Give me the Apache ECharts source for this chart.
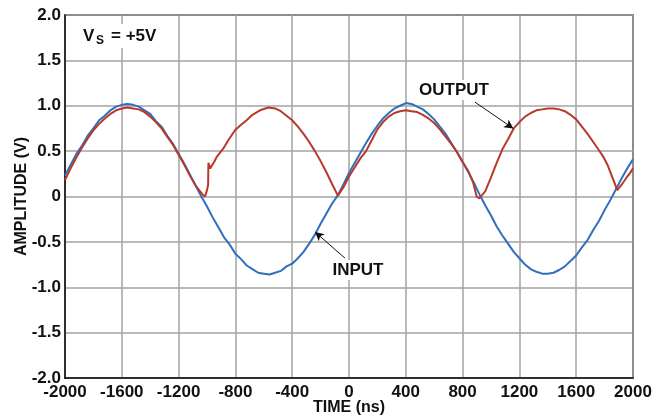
<!DOCTYPE html>
<html>
<head>
<meta charset="utf-8">
<script src="https://cdn.jsdelivr.net/npm/echarts@6/dist/echarts.min.js"></script>
<style>
html,body{margin:0;padding:0;background:#fff;}
#chart{width:659px;height:417px;}
</style>
</head>
<body>
<div id="chart"></div>
<script>
// Input trace (blue): time in ns, amplitude in V
var inputTime = [-2000,-1960,-1920,-1880,-1840,-1800,-1760,-1720,-1680,-1640,-1600,-1560,-1520,-1480,-1440,-1400,-1360,-1320,-1280,-1240,-1200,-1160,-1120,-1080,-1040,-1000,-960,-920,-880,-840,-800,-760,-720,-680,-640,-600,-560,-520,-480,-440,-400,-360,-320,-280,-240,-200,-160,-120,-80,-40,0,40,80,120,160,200,240,280,320,360,400,440,480,520,560,600,640,680,720,760,800,840,880,920,960,1000,1040,1080,1120,1160,1200,1240,1280,1320,1360,1400,1440,1480,1520,1560,1600,1640,1680,1720,1760,1800,1840,1880,1920,1960,2000];
var inputValues = [0.23,0.35,0.47,0.56,0.67,0.75,0.84,0.89,0.95,0.99,1.01,1.02,1.01,0.99,0.95,0.91,0.83,0.77,0.67,0.58,0.47,0.36,0.24,0.12,0.00,-0.11,-0.23,-0.34,-0.45,-0.53,-0.63,-0.69,-0.76,-0.80,-0.84,-0.85,-0.86,-0.84,-0.82,-0.77,-0.74,-0.68,-0.61,-0.52,-0.42,-0.30,-0.19,-0.08,0.01,0.13,0.26,0.37,0.48,0.59,0.69,0.78,0.86,0.92,0.97,1.00,1.03,1.02,0.99,0.96,0.91,0.85,0.77,0.69,0.59,0.49,0.38,0.27,0.15,0.02,-0.10,-0.21,-0.33,-0.43,-0.52,-0.61,-0.68,-0.75,-0.80,-0.83,-0.85,-0.85,-0.84,-0.81,-0.77,-0.71,-0.65,-0.56,-0.48,-0.37,-0.27,-0.15,-0.04,0.08,0.20,0.31,0.41];

// Output trace (red)
var outputTime = [-2000,-1960,-1920,-1880,-1840,-1800,-1760,-1720,-1680,-1640,-1600,-1560,-1520,-1480,-1440,-1400,-1360,-1320,-1280,-1240,-1200,-1160,-1120,-1080,-1050,-1030,-1014,-1000,-992,-990,-984,-978,-965,-950,-930,-900,-885,-850,-803,-760,-721,-680,-627,-568,-520,-480,-440,-400,-360,-320,-280,-240,-200,-160,-120,-78,-40,0,40,80,120,160,200,240,280,320,360,400,440,480,520,560,600,640,680,720,760,800,840,875,899,918,940,960,1000,1040,1080,1120,1160,1200,1240,1280,1320,1360,1400,1440,1480,1520,1560,1600,1640,1680,1720,1760,1790,1820,1850,1870,1889,1920,1955,1980,2000];
var outputValues = [0.18,0.31,0.43,0.54,0.64,0.73,0.80,0.86,0.91,0.95,0.97,0.98,0.97,0.96,0.93,0.88,0.82,0.75,0.66,0.57,0.46,0.35,0.23,0.12,0.06,0.02,0.00,0.07,0.13,0.37,0.36,0.31,0.33,0.38,0.44,0.50,0.53,0.62,0.73,0.79,0.84,0.90,0.95,0.98,0.97,0.94,0.89,0.84,0.77,0.69,0.60,0.50,0.39,0.27,0.14,0.01,0.10,0.22,0.32,0.42,0.50,0.62,0.74,0.82,0.88,0.92,0.94,0.95,0.94,0.93,0.90,0.86,0.81,0.74,0.66,0.58,0.49,0.38,0.28,0.15,0.00,-0.02,0.02,0.06,0.21,0.37,0.52,0.63,0.75,0.82,0.88,0.92,0.95,0.96,0.97,0.97,0.96,0.94,0.90,0.85,0.77,0.69,0.60,0.51,0.44,0.35,0.23,0.15,0.07,0.13,0.21,0.26,0.31];

var xTicks = [-2000,-1600,-1200,-800,-400,0,400,800,1200,1600,2000];
var yTicks = [-2.0,-1.5,-1.0,-0.5,0,0.5,1.0,1.5,2.0];

var outputArrow = [[887,1.04],[1157,0.75]];
var inputArrow = [[-28,-0.68],[-239,-0.39]];

function zip(a,b){var r=[];for(var i=0;i<a.length;i++){r.push([a[i],b[i]]);}return r;}

var FONT = '"Liberation Sans", Arial, Helvetica, sans-serif';
var chart = echarts.init(document.getElementById('chart'), null, {renderer:'canvas'});
var option = {
  animation:false,
  backgroundColor:'#ffffff',
  grid:{left:65,right:26,top:15,bottom:39,show:true,borderColor:'#111',borderWidth:1.5,containLabel:false,outerBoundsMode:'none'},
  xAxis:{
    type:'value',min:xTicks[0],max:xTicks[xTicks.length-1],interval:400,
    name:'TIME (ns)',nameLocation:'middle',nameGap:22,nameMoveOverlap:false,
    nameTextStyle:{fontFamily:FONT,fontWeight:'bold',fontSize:16,color:'#111'},
    axisLine:{show:true,onZero:false,lineStyle:{color:'#111',width:1.5}},
    axisTick:{show:false},
    axisLabel:{fontFamily:FONT,fontWeight:'bold',fontSize:17,color:'#111',margin:6,
      formatter:function(v){return String(v);}},
    splitLine:{show:true,lineStyle:{color:'#a3a3a3',width:1.5}}
  },
  yAxis:{
    type:'value',min:yTicks[0],max:yTicks[yTicks.length-1],interval:0.5,
    name:'AMPLITUDE (V)',nameLocation:'middle',nameGap:35,nameMoveOverlap:false,
    nameTextStyle:{fontFamily:FONT,fontWeight:'bold',fontSize:16,color:'#111'},
    axisLine:{show:true,onZero:false,lineStyle:{color:'#111',width:1.5}},
    axisTick:{show:false},
    axisLabel:{fontFamily:FONT,fontWeight:'bold',fontSize:17,color:'#111',margin:4,
      formatter:function(v){return v===0?'0':v.toFixed(1);}},
    splitLine:{show:true,lineStyle:{color:'#a3a3a3',width:1.5}}
  },
  series:[
    {type:'line',name:'INPUT',data:zip(inputTime,inputValues),showSymbol:false,symbol:'none',
     lineStyle:{color:'#2f6fbd',width:2},itemStyle:{color:'#2f6fbd'},z:2,
     markLine:{silent:true,symbol:['none','arrow'],symbolSize:[7,9],label:{show:false},
       lineStyle:{color:'#111',width:1,type:'solid'},
       data:[[{coord:inputArrow[0]},{coord:inputArrow[1]}]]}},
    {type:'line',name:'OUTPUT',data:zip(outputTime,outputValues),showSymbol:false,symbol:'none',
     lineStyle:{color:'#b8382c',width:2},itemStyle:{color:'#b8382c'},z:3,
     markLine:{silent:true,symbol:['none','arrow'],symbolSize:[7,9],label:{show:false},
       lineStyle:{color:'#111',width:1,type:'solid'},
       data:[[{coord:outputArrow[0]},{coord:outputArrow[1]}]]}}
  ],
  graphic:[
    {type:'rect',left:80,top:24,shape:{width:84,height:24},style:{fill:'#fff'},z:10},
    {type:'text',x:83,y:36,z:11,style:{text:'V',font:'bold 17px '+FONT,fill:'#111',verticalAlign:'middle'}},
    {type:'text',x:96,y:41,z:11,style:{text:'S',font:'bold 12px '+FONT,fill:'#111',verticalAlign:'middle'}},
    {type:'text',x:111,y:36,z:11,style:{text:'= +5V',font:'bold 17px '+FONT,fill:'#111',verticalAlign:'middle'}},
    {type:'rect',left:414,top:80,shape:{width:81,height:20},style:{fill:'#fff'},z:10},
    {type:'text',x:454,y:90,z:11,style:{text:'OUTPUT',font:'bold 17px '+FONT,fill:'#111',align:'center',verticalAlign:'middle'}},
    {type:'rect',left:328,top:260,shape:{width:61,height:20},style:{fill:'#fff'},z:10},
    {type:'text',x:358,y:270,z:11,style:{text:'INPUT',font:'bold 17px '+FONT,fill:'#111',align:'center',verticalAlign:'middle'}}
  ]
};
chart.setOption(option);
</script>
</body>
</html>
